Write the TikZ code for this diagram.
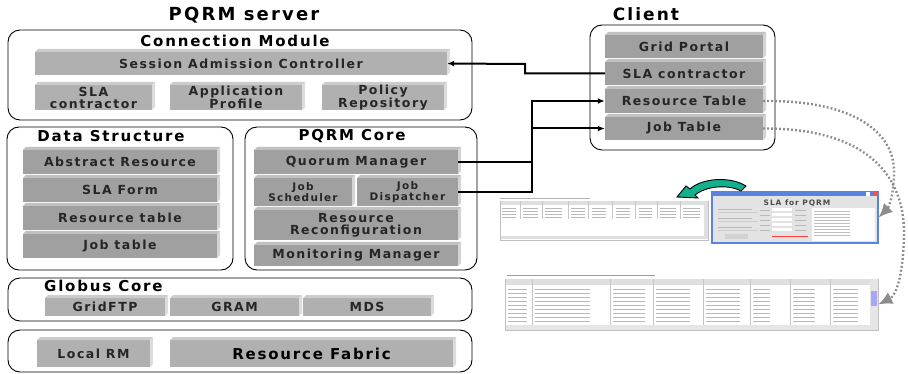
\documentclass[tikz,border=0pt]{standalone}
\usepackage{fontspec}
\setmainfont[LetterSpace=12]{DejaVu Sans}
\usetikzlibrary{arrows.meta,calc}
\definecolor{barA}{HTML}{B0B0B0}
\definecolor{barB}{HTML}{A0A0A0}
\definecolor{winblue}{HTML}{5A82E0}
\definecolor{greenarr}{HTML}{12B08C}
\definecolor{dotgray}{HTML}{8C8C8C}
\tikzset{
 panel/.style={draw=black,line width=0.9pt,rounded corners=12pt},
 bartext/.style={inner sep=0pt,align=center,font=\bfseries\fontsize{12.5}{12}\selectfont,text=black!85},
 smalltext/.style={bartext,font=\bfseries\fontsize{10.5}{11}\selectfont},
 ttl/.style={inner sep=0pt,font=\bfseries\fontsize{15}{16}\selectfont},
 conn/.style={line width=2pt},
 tip/.style={-{Latex[length=7pt,width=6pt]}},
 dots/.style={draw=dotgray,line width=2.4pt,dash pattern=on 1.8pt off 2.2pt,-{Latex[length=14pt,width=13pt]}},
 win/.style={inner sep=0pt,draw=gray!50,line width=0.6pt,fill=white}
}
% #1 colour, #2 name, #3 x1, #4 y1, #5 x2, #6 y2, #7 style, #8 text
\newcommand\mybar[8]{%
 \fill[#1] (#3,#4+3) rectangle (#5-3,#6);
 \fill[#1!65!white] (#3,#4+3) -- (#3+3,#4) -- (#5,#4) -- (#5-3,#4+3) -- cycle;
 \fill[#1!45!white] (#5-3,#4+3) -- (#5,#4) -- (#5,#6-3) -- (#5-3,#6) -- cycle;
 \node[#7,minimum width={(#5-#3-3)*1pt},minimum height={(#6-#4-3)*1pt}] (#2) at ({(#3+#5-3)/2},{(#4+#6+3)/2}) {#8};}
\begin{document}
\begin{tikzpicture}[x=1pt,y=-1pt]
\useasboundingbox (0,0) rectangle (908,374);
% ---------- server ----------
\node[ttl,font=\bfseries\fontsize{18}{20}\selectfont] (srvt) at (244,15) {PQRM server};
\draw[panel] (8,30) rectangle (472,120);
\node[ttl] (cmt) at (235,41) {Connection Module};
\mybar{barA}{sac}{35}{49}{450}{75}{bartext}{Session Admission Controller}
\mybar{barA}{slas}{35}{82}{155}{110}{bartext}{SLA\\contractor}
\mybar{barA}{ap}{170}{82}{305}{110}{bartext}{Application\\Profile}
\mybar{barA}{pr}{322}{82}{447}{110}{bartext}{Policy\\Repository}

\draw[panel] (7,127) rectangle (233,270);
\node[ttl] (dst) at (111,136) {Data Structure};
\mybar{barB}{ar}{23}{147}{220}{174}{bartext}{Abstract Resource}
\mybar{barB}{slf}{23}{175}{220}{202}{bartext}{SLA Form}
\mybar{barB}{rtab}{23}{203}{220}{230}{bartext}{Resource table}
\mybar{barB}{jtab}{23}{231}{220}{258}{bartext}{Job table}

\draw[panel] (245,127) rectangle (477,270);
\node[ttl] (pct) at (352,136) {PQRM Core};
\mybar{barB}{qm}{254}{147}{461}{174}{bartext}{Quorum Manager}
\mybar{barB}{js}{254}{175}{355}{206}{smalltext}{Job\\Scheduler}
\mybar{barB}{jd}{357}{175}{461}{206}{smalltext}{Job\\Dispatcher}
\mybar{barB}{rc}{254}{207}{461}{240}{bartext}{Resource\\Reconfiguration}
\mybar{barB}{mm}{254}{242}{461}{266}{bartext}{Monitoring Manager}

\draw[panel] (8,278) rectangle (472,321);
\node[ttl,anchor=west] (gct) at (44,286) {Globus Core};
\mybar{barA}{gftp}{45}{295}{168}{316}{bartext}{GridFTP}
\mybar{barA}{gram}{170}{295}{302}{316}{bartext}{GRAM}
\mybar{barA}{mds}{303}{295}{434}{316}{bartext}{MDS}

\draw[panel] (8,330) rectangle (472,372);
\mybar{barA}{lrm}{37}{337}{153}{367}{bartext}{Local RM}
\mybar{barA}{rf}{170}{337}{456}{367}{ttl}{Resource Fabric}

% ---------- client ----------
\node[ttl,font=\bfseries\fontsize{17}{18}\selectfont] (clt) at (646,14) {Client};
\draw[panel] (590,25) rectangle (775,150);
\mybar{barB}{gp}{605}{32}{766}{58}{bartext}{Grid Portal}
\mybar{barB}{cslac}{605}{59}{766}{85}{bartext}{SLA contractor}
\mybar{barB}{rt}{605}{86}{766}{113}{bartext}{Resource Table}
\mybar{barB}{jt}{605}{114}{766}{140}{bartext}{Job Table}

% ---------- connectors ----------
\draw[conn,tip] (cslac.west) -| (525,64) -- (sac.east);
\draw[conn] (qm.east) -- ($(qm.east -| rt.west)+(-73,0)$);
\draw[conn,tip] (jd.east) -| ($(rt.west)+(-73,0)$) -- (rt.west);
\draw[conn,tip] ($(jt.west)+(-73,0)$) -- (jt.west);

% ---------- screenshots ----------
% resource monitoring table
\draw[gray!60,line width=1.3pt] (500,198.5) -- (590,198.5);
\node[win,minimum width=208pt,minimum height=39pt] (rmwin) at (604,220.5) {};
\fill[gray!25] (500.5,201.5) rectangle (704,205.5);
\fill[gray!25] (704,201.5) rectangle (707.5,239.5);
\fill[gray!25] (500.5,236) rectangle (707.5,239.5);
\foreach \x in {520,542,568,588,612,635,657,680}
  \draw[gray!45,line width=0.4pt] (\x,201.5) -- (\x,219);
\foreach \y in {208,211,214,217}
  \foreach \a/\b in {502/516,523/538,545/562,571/585,592/606,616/630,639/652,660/676,683/700}
    \draw[gray!55,line width=0.7pt] (\a,\y) -- (\b,\y);
% SLA window
\node[win,draw=winblue,line width=1.2pt,fill=gray!22,minimum width=166pt,minimum height=51pt] (slawin) at (795,217.5) {};
\fill[winblue] (712,192) rectangle (878,196.5);
\fill[red!70] (873,192.5) rectangle (877,196);
\fill[white] (866,192.5) rectangle (870,196);
\node[inner sep=0pt,font=\bfseries\fontsize{7.5}{7.5}\selectfont,text=black!70] (slat) at (797,203) {SLA for PQRM};
\fill[white] (812,208) rectangle (875,241);
\foreach \y in {211,214,217,220,223,226,229,232,235}
  \draw[gray!50,line width=0.6pt] (814,\y) -- (850,\y);
\foreach \y in {209,218,227}
  \draw[gray!55,line width=0.7pt] (718,\y) -- (752,\y);
\foreach \y in {212,221,230}
  \draw[gray!40,line width=0.6pt] (718,\y) -- (758,\y);
\foreach \y in {208,213,218,223,228}
  {\fill[white] (772,\y) rectangle (792,\y+3.5);
   \draw[gray!55,line width=0.6pt] (760,\y+2) -- (770,\y+2);
   \draw[gray!55,line width=0.6pt] (795,\y+2) -- (806,\y+2);}
\fill[gray!35] (725,234) rectangle (748,239);
\draw[red!75,line width=0.8pt] (772,236.5) -- (808,236.5);
% job monitoring table
\draw[gray!75,line width=1.4pt] (507,275.5) -- (655,275.5);
\node[win,minimum width=373pt,minimum height=51pt] (jobwin) at (691.5,304.5) {};
\fill[gray!25] (505.5,279.5) rectangle (870,285);
\fill[gray!20] (870,279.5) rectangle (877.5,325);
\fill[blue!35] (871,291) rectangle (877,306);
\fill[gray!20] (505.5,325) rectangle (877.5,329.5);
\foreach \x in {532,610,653,703,750,790,830}
  \draw[gray!45,line width=0.4pt] (\x,279.5) -- (\x,325);
\foreach \y in {289,293,297,301,305,309,313,317,321}
  \foreach \a/\b in {508/527,535/590,613/645,656/690,706/740,753/770,793/815,833/858}
    \draw[gray!55,line width=0.7pt] (\a,\y) -- (\b,\y);
% green curved arrow
\filldraw[fill=greenarr,draw=black,line width=0.9pt]
  (677,197) -- (686,186) -- (690,189)
  .. controls (702,178) and (730,176) .. (746,186)
  -- (741,191)
  .. controls (728,184) and (706,186) .. (695,195)
  -- (698,198) -- cycle;
% dotted arrows
\draw[dots] (rt.east) .. controls (850,100) and (896,130) .. (894,175)
  .. controls (893,200) and (888,208) .. (slawin.east);
\draw[dots] (jt.east) .. controls (860,128) and (905,170) .. (904,235)
  .. controls (903,280) and (895,296) .. (jobwin.east);
\end{tikzpicture}
\end{document}
